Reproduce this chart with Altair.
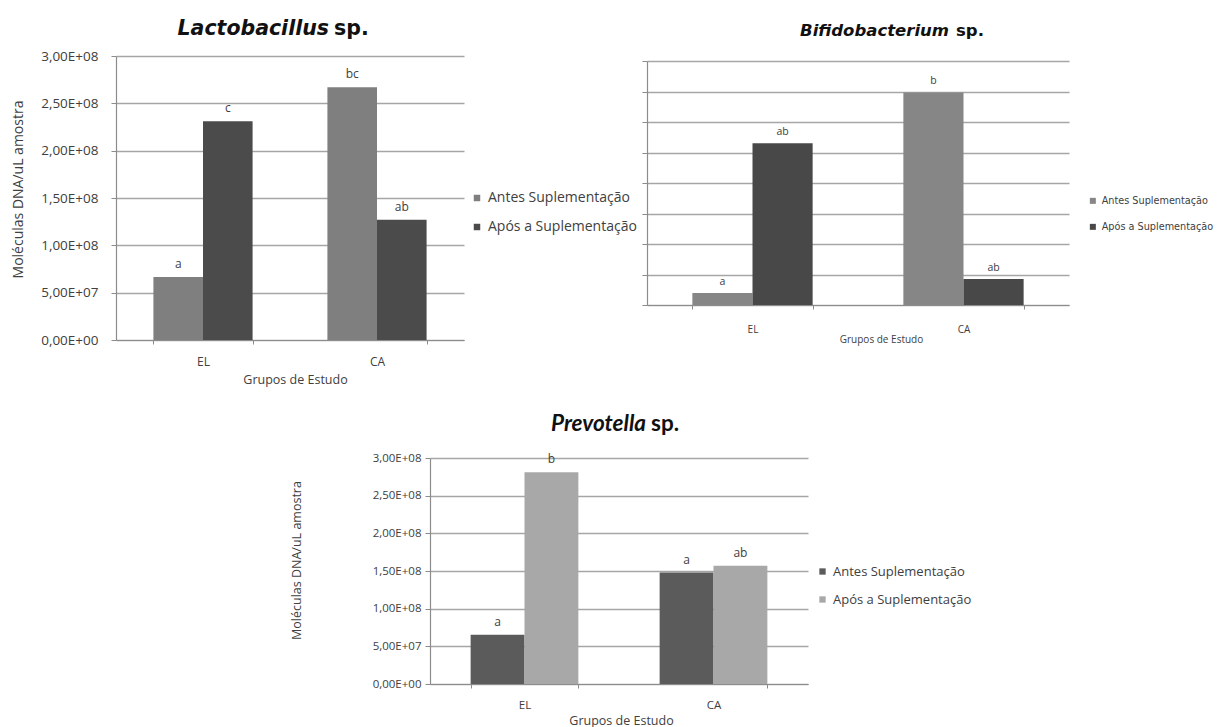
import altair as alt
import pandas as pd

# ---------------- data ----------------
grupos = ["EL", "CA"]
tratamentos = ["Antes Suplementação", "Após a Suplementação"]

lacto_antes = [6.65e7, 2.67e8]
lacto_apos = [2.31e8, 1.27e8]
lacto_letras_antes = ["a", "bc"]
lacto_letras_apos = ["c", "ab"]

bifido_antes = [0.39, 6.97]
bifido_apos = [5.30, 0.85]
bifido_letras_antes = ["a", "b"]
bifido_letras_apos = ["ab", "ab"]

prevo_antes = [6.55e7, 1.48e8]
prevo_apos = [2.81e8, 1.57e8]
prevo_letras_antes = ["a", "a"]
prevo_letras_apos = ["b", "ab"]

ticks_e8 = [0, 5e7, 1e8, 1.5e8, 2e8, 2.5e8, 3e8]
ticks_bifido = [0, 1, 2, 3, 4, 5, 6, 7, 8]

titulo_lacto = ["Lactobacillus", "sp."]
titulo_bifido = ["Bifidobacterium", "sp."]
titulo_prevo = ["Prevotella", "sp."]

eixo_y_titulo = "Moléculas DNA/uL amostra"
eixo_x_titulo = "Grupos de Estudo"

cores_lacto = ["#7f7f7f", "#4b4b4b"]
cores_bifido = ["#868686", "#484848"]
cores_prevo = ["#5b5b5b", "#a8a8a8"]


def tabela(antes, apos, la, lp):
    linhas = []
    for i, g in enumerate(grupos):
        linhas.append({"grupo": g, "trat": tratamentos[0], "valor": antes[i], "letra": la[i]})
        linhas.append({"grupo": g, "trat": tratamentos[1], "valor": apos[i], "letra": lp[i]})
    return pd.DataFrame(linhas)


LABEL_EXPR = "replace(replace(format(datum.value, '.2e'), '.', ','), 'e+', 'E+0')"
AX_COLOR = "#8c8c8c"
GRID_COLOR = "#a6a6a6"
TXT = "#404040"


def painel(df, w, h, ymax, yticks, cores, c):
    x = alt.X(
        "grupo:N", sort=grupos,
        scale=alt.Scale(paddingInner=0.43, paddingOuter=0.215),
        axis=alt.Axis(
            title=eixo_x_titulo, labelAngle=0, tickBand="extent", grid=False,
            domainColor=AX_COLOR, tickColor=AX_COLOR, tickSize=4, domainWidth=1.2,
            labelFont=c["font"], labelFontSize=c["xlab_size"], labelColor=TXT,
            labelPadding=c["xlab_pad"],
            titleFont=c["font"], titleFontSize=c["xtit_size"], titleFontWeight="normal",
            titleColor=TXT, titleX=c["xtit_x"], titleY=c["xtit_y"], titleBaseline="middle",
        ),
    )
    xo = alt.XOffset("trat:N", sort=tratamentos)
    if c["ylabels"]:
        yaxis = alt.Axis(
            values=yticks, grid=True, gridColor=GRID_COLOR, gridWidth=1.6,
            domainColor=AX_COLOR, tickColor=AX_COLOR, tickSize=5, domainWidth=1.2,
            labelExpr=LABEL_EXPR, labelFont=c["font"], labelFontSize=c["ylab_size"],
            labelColor=TXT, labelPadding=c["ylab_pad"],
            title=eixo_y_titulo, titleFont=c["font"], titleFontSize=c["ytit_size"],
            titleFontWeight="normal", titleColor=TXT, titleX=c["ytit_x"], titleY=c["ytit_y"],
            titleBaseline="middle", titleAngle=-90,
        )
    else:
        yaxis = alt.Axis(
            values=yticks, grid=True, gridColor=GRID_COLOR, gridWidth=1.6,
            domainColor=AX_COLOR, tickColor=AX_COLOR, tickSize=5, domainWidth=1.2,
            labels=False, title=None,
        )
    y = alt.Y("valor:Q", scale=alt.Scale(domain=[0, ymax], nice=False), axis=yaxis)

    barras = alt.Chart(df).mark_bar().encode(
        x=x, xOffset=xo, y=y,
        color=alt.Color(
            "trat:N", sort=tratamentos,
            scale=alt.Scale(domain=tratamentos, range=cores),
            legend=alt.Legend(
                title=None, orient="none", legendX=c["leg_x"], legendY=c["leg_y"],
                symbolType="square", symbolSize=c["sym"], symbolStrokeWidth=0,
                labelFont=c["leg_font"], labelFontSize=c["leg_size"], labelColor=TXT,
                rowPadding=c["leg_row"], padding=0, labelLimit=0, labelOffset=4,
            ),
        ),
    )
    letras = alt.Chart(df).mark_text(
        baseline="bottom", dy=-6, font=c["font"], fontSize=c["let_size"], color=TXT
    ).encode(x=x, xOffset=xo, y=y, text="letra:N")

    tit = c["titulo"]
    t1 = alt.Chart(pd.DataFrame({"t": [tit[0]]})).mark_text(
        align="right", baseline="alphabetic", font=c["tfont"], fontSize=c["tsize"],
        fontWeight="bold", fontStyle="italic", color="#111111",
    ).encode(x=alt.value(c["t_x"]), y=alt.value(c["t_y"]), text="t:N")
    t2 = alt.Chart(pd.DataFrame({"t": [tit[1]]})).mark_text(
        align="left", baseline="alphabetic", font=c["tfont"], fontSize=c["tsize"],
        fontWeight="bold", color="#111111",
    ).encode(x=alt.value(c["t_x"] + c["t_gap"]), y=alt.value(c["t_y"]), text="t:N")

    return alt.layer(barras, letras, t1, t2).properties(width=w, height=h)


cfg_lacto = dict(
    font="Open Sans", xlab_size=12, xlab_pad=12, xtit_size=12.5, xtit_x=179, xtit_y=39,
    ylabels=True, ylab_size=13.5, ylab_pad=13, ytit_size=14, ytit_x=-98, ytit_y=133,
    leg_x=354, leg_y=135, sym=42, leg_font="Open Sans", leg_size=14, leg_row=15,
    let_size=12, titulo=titulo_lacto, tfont="DejaVu Sans", tsize=20.5, t_x=213, t_y=-21,
    t_gap=5,
)
cfg_bifido = dict(
    font="Open Sans", xlab_size=10, xlab_pad=15, xtit_size=10, xtit_x=234, xtit_y=34,
    ylabels=False, leg_x=441, leg_y=135, sym=36, leg_font="DejaVu Sans", leg_size=9.7,
    leg_row=15, let_size=10.5, titulo=titulo_bifido, tfont="DejaVu Sans", tsize=16.5,
    t_x=302, t_y=-25, t_gap=7,
)
cfg_prevo = dict(
    font="Open Sans", xlab_size=11.5, xlab_pad=11, xtit_size=12.5, xtit_x=191, xtit_y=36,
    ylabels=True, ylab_size=11.5, ylab_pad=4, ytit_size=12.5, ytit_x=-134, ytit_y=102,
    leg_x=386, leg_y=107, sym=40, leg_font="Open Sans", leg_size=13, leg_row=14,
    let_size=12, titulo=titulo_prevo, tfont="Lato", tsize=22.5, t_x=216, t_y=-27, t_gap=5,
)

lacto = painel(tabela(lacto_antes, lacto_apos, lacto_letras_antes, lacto_letras_apos),
               348, 284, 3e8, ticks_e8, cores_lacto, cfg_lacto)
bifido = painel(tabela(bifido_antes, bifido_apos, bifido_letras_antes, bifido_letras_apos),
                422, 244, 8, ticks_bifido, cores_bifido, cfg_bifido)
prevo = painel(tabela(prevo_antes, prevo_apos, prevo_letras_antes, prevo_letras_apos),
               378, 226, 3e8, ticks_e8, cores_prevo, cfg_prevo)


def espaco(w, h):
    return alt.Chart(pd.DataFrame({"v": [0]})).mark_point(opacity=0).properties(width=w, height=h)


RES = dict(x="independent", y="independent", color="independent", xOffset="independent")

direita = alt.vconcat(espaco(1, 5), bifido, spacing=0, bounds="flush").resolve_scale(**RES).resolve_legend(color="independent")
linha1 = alt.hconcat(lacto, direita, spacing=183, bounds="flush").resolve_scale(**RES).resolve_legend(color="independent")
linha2 = alt.hconcat(espaco(1, 1), prevo, spacing=313, bounds="flush").resolve_scale(**RES).resolve_legend(color="independent")

chart = (
    alt.vconcat(linha1, linha2, spacing=402, bounds="flush")
    .resolve_scale(**RES)
    .resolve_legend(color="independent")
    .properties(padding={"left": 2, "top": 11, "right": 0, "bottom": 0}, background="white")
    .configure_view(stroke=None)
)

chart.save("out.html", embed_options={"renderer": "svg", "actions": False})
